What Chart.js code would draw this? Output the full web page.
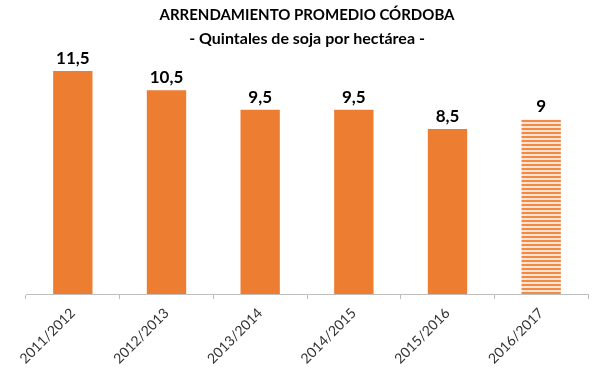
<!DOCTYPE html>
<html lang="es">
<head>
    <meta charset="UTF-8">
    <title>Arrendamiento promedio Córdoba</title>
    <script src="https://cdnjs.cloudflare.com/ajax/libs/Chart.js/4.4.0/chart.umd.js"></script>
    <style>
        body { margin: 0; background: #fff; }
        #wrap { width: 600px; height: 375px; }
    </style>
</head>
<body>
<div id="wrap"><canvas id="chart" width="600" height="375"></canvas></div>
<script>
    var campaigns = ['2011/2012', '2012/2013', '2013/2014', '2014/2015', '2015/2016', '2016/2017'];
    var quintales = [11.5, 10.5, 9.5, 9.5, 8.5, 9];
    var valueLabels = ['11,5', '10,5', '9,5', '9,5', '8,5', '9'];

    var orange = '#ED7D31';

    // striped fill for the estimated last season
    function stripes() {
        var c = document.createElement('canvas');
        c.width = 4; c.height = 4;
        var g = c.getContext('2d');
        g.fillStyle = '#FCE4D4';
        g.fillRect(0, 0, 4, 4);
        g.fillStyle = '#F08A45';
        g.fillRect(0, 0, 4, 2);
        return g.createPattern(c, 'repeat');
    }

    var fills = campaigns.map(function (c, i) {
        return i === campaigns.length - 1 ? stripes() : orange;
    });

    var valueTags = {
        id: 'valueTags',
        afterDatasetsDraw: function (chart) {
            var ctx = chart.ctx;
            var bars = chart.getDatasetMeta(0).data;
            ctx.save();
            ctx.font = 'bold 17px Lato';
            ctx.fillStyle = '#000';
            ctx.textAlign = 'center';
            ctx.textBaseline = 'bottom';
            bars.forEach(function (bar, i) {
                ctx.fillText(valueLabels[i], bar.x, bar.y - 4);
            });
            ctx.restore();
        }
    };

    new Chart(document.getElementById('chart').getContext('2d'), {
        type: 'bar',
        data: {
            labels: campaigns,
            datasets: [{
                data: quintales,
                backgroundColor: fills,
                borderWidth: 0,
                categoryPercentage: 1,
                barPercentage: 0.42
            }]
        },
        options: {
            responsive: false,
            animation: false,
            layout: { padding: { left: 26, right: 12, bottom: 0 } },
            plugins: {
                legend: { display: false },
                tooltip: { enabled: false },
                title: {
                    display: true,
                    text: 'ARRENDAMIENTO PROMEDIO CÓRDOBA',
                    color: '#000',
                    font: { family: 'Lato', size: 15, weight: 'bold' },
                    padding: { top: 6, bottom: 2 }
                },
                subtitle: {
                    display: true,
                    text: '- Quintales de soja por hectárea -',
                    color: '#000',
                    font: { family: 'Lato', size: 16, weight: 'bold' },
                    padding: { top: 3, bottom: 13 }
                }
            },
            scales: {
                y: { display: false, min: 0, max: 12 },
                x: {
                    offset: true,
                    grid: { offset: true, drawOnChartArea: false, drawTicks: true, tickLength: 5, color: '#BFBFBF' },
                    border: { display: true, color: '#BFBFBF' },
                    ticks: {
                        minRotation: 45, maxRotation: 45,
                        padding: 6,
                        color: '#333333',
                        font: { family: 'Lato', size: 14 }
                    },
                    afterFit: function (s) { s.height = 81; }
                }
            }
        },
        plugins: [valueTags]
    });
</script>
</body>
</html>
